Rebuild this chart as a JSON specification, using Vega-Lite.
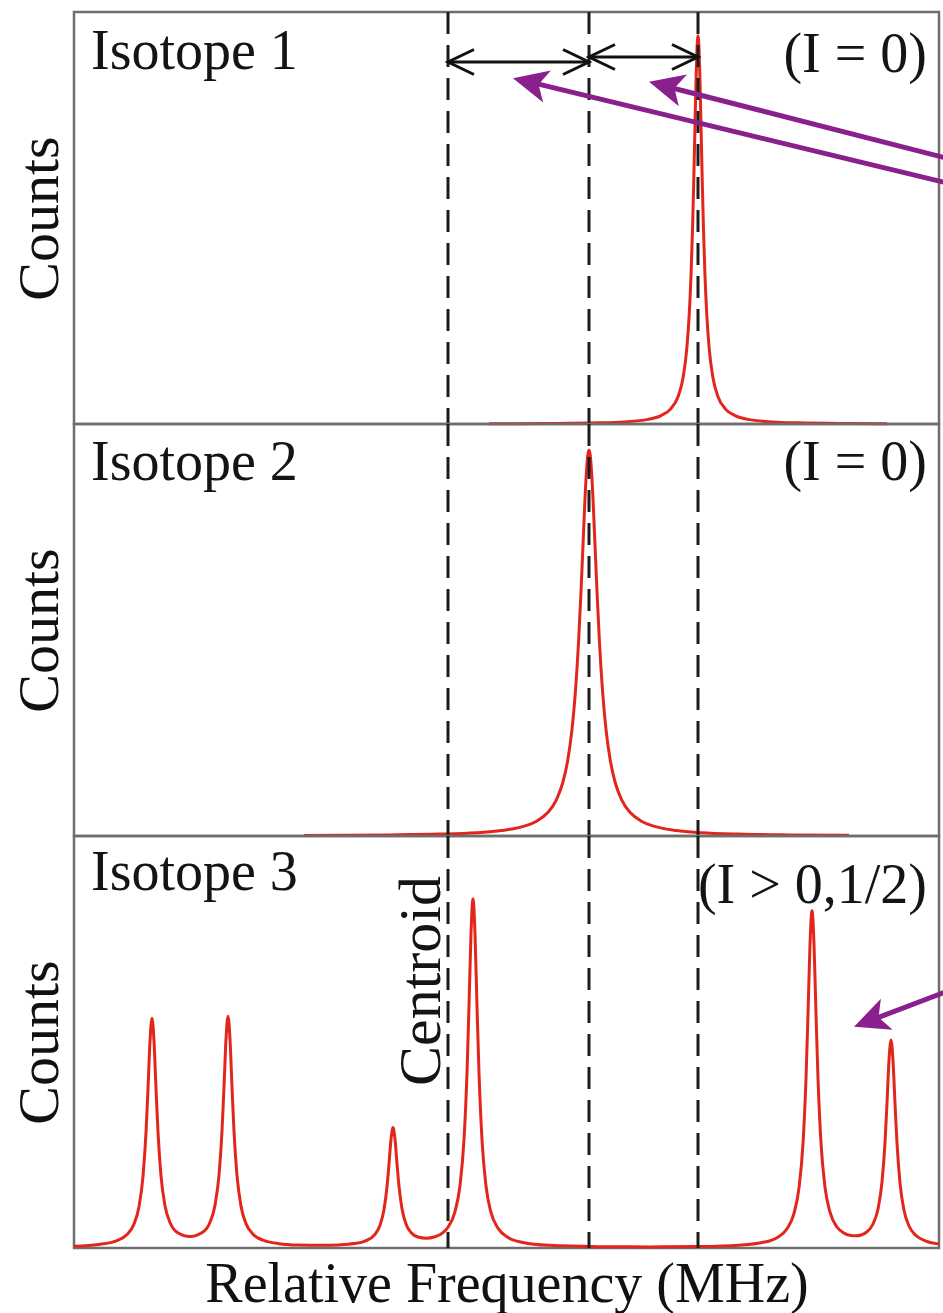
{
  "$schema": "https://vega.github.io/schema/vega-lite/v6.json",
  "background": "white",
  "padding": {"left": 9, "top": 9, "right": 0, "bottom": 0},
  "spacing": 0,
  "bounds": "flush",
  "config": {
    "view": {"stroke": "#6e6e6e", "strokeWidth": 2.5},
    "axis": {"titleFont": "Liberation Serif", "titleFontWeight": "normal", "titleColor": "#111111"},
    "text": {"font": "Liberation Serif", "fontSize": 56, "color": "#141414"}
  },
  "datasets": {
    "iso1": [
      {"freq": -400, "counts": 0.67}, {"freq": -164, "counts": 1.31}, {"freq": 36, "counts": 2.92}, {"freq": 136, "counts": 5.19},
      {"freq": 236, "counts": 11.6}, {"freq": 286, "counts": 20.4}, {"freq": 326, "counts": 37.3}, {"freq": 356, "counts": 68.2},
      {"freq": 376, "counts": 114.9}, {"freq": 391, "counts": 187.2}, {"freq": 401, "counts": 274.7}, {"freq": 408, "counts": 370.2},
      {"freq": 414, "counts": 485}, {"freq": 419, "counts": 607.4}, {"freq": 424, "counts": 747.6}, {"freq": 428, "counts": 856.7},
      {"freq": 432, "counts": 938.9}, {"freq": 436, "counts": 970}, {"freq": 440, "counts": 938.9}, {"freq": 444, "counts": 856.7},
      {"freq": 448, "counts": 747.6}, {"freq": 453, "counts": 607.4}, {"freq": 458, "counts": 485}, {"freq": 464, "counts": 370.2},
      {"freq": 471, "counts": 274.7}, {"freq": 481, "counts": 187.2}, {"freq": 496, "counts": 114.9}, {"freq": 516, "counts": 68.2},
      {"freq": 546, "counts": 37.3}, {"freq": 586, "counts": 20.4}, {"freq": 636, "counts": 11.6}, {"freq": 736, "counts": 5.19},
      {"freq": 836, "counts": 2.92}, {"freq": 1036, "counts": 1.31}, {"freq": 1192, "counts": 0.82}
    ],
    "iso2": [
      {"freq": -1140, "counts": 1.31}, {"freq": -800, "counts": 2.66}, {"freq": -600, "counts": 4.71}, {"freq": -450, "counts": 8.33},
      {"freq": -350, "counts": 13.7}, {"freq": -270, "counts": 22.8}, {"freq": -210, "counts": 37.1}, {"freq": -165, "counts": 58.7},
      {"freq": -130, "counts": 91.2}, {"freq": -105, "counts": 133.1}, {"freq": -85, "counts": 189.4}, {"freq": -68, "counts": 266.5},
      {"freq": -54, "counts": 363.8}, {"freq": -42, "counts": 482.5}, {"freq": -32, "counts": 610.5}, {"freq": -22, "counts": 757.3},
      {"freq": -12, "counts": 892.2}, {"freq": -5, "counts": 951.5}, {"freq": 0, "counts": 965}, {"freq": 5, "counts": 951.5},
      {"freq": 12, "counts": 892.2}, {"freq": 22, "counts": 757.3}, {"freq": 32, "counts": 610.5}, {"freq": 42, "counts": 482.5},
      {"freq": 54, "counts": 363.8}, {"freq": 68, "counts": 266.5}, {"freq": 85, "counts": 189.4}, {"freq": 105, "counts": 133.1},
      {"freq": 130, "counts": 91.2}, {"freq": 165, "counts": 58.7}, {"freq": 210, "counts": 37.1}, {"freq": 270, "counts": 22.8},
      {"freq": 350, "counts": 13.7}, {"freq": 450, "counts": 8.33}, {"freq": 600, "counts": 4.71}, {"freq": 800, "counts": 2.66},
      {"freq": 1040, "counts": 1.57}
    ],
    "iso3": [
      {"freq": -2060, "counts": 4.6}, {"freq": -1960, "counts": 8.9}, {"freq": -1888, "counts": 18.5}, {"freq": -1848, "counts": 33.6},
      {"freq": -1820, "counts": 59.9}, {"freq": -1800, "counts": 103.2}, {"freq": -1784, "counts": 178.8}, {"freq": -1772, "counts": 288.6},
      {"freq": -1764, "counts": 398.3}, {"freq": -1756, "counts": 516.9}, {"freq": -1748, "counts": 574.1}, {"freq": -1740, "counts": 517.3},
      {"freq": -1732, "counts": 399}, {"freq": -1724, "counts": 289.7}, {"freq": -1712, "counts": 180.5}, {"freq": -1696, "counts": 105.8},
      {"freq": -1676, "counts": 63.6}, {"freq": -1648, "counts": 39.4}, {"freq": -1596, "counts": 28.6}, {"freq": -1544, "counts": 39.9},
      {"freq": -1516, "counts": 64.4}, {"freq": -1496, "counts": 107}, {"freq": -1480, "counts": 182.3}, {"freq": -1468, "counts": 292.6},
      {"freq": -1460, "counts": 402.9}, {"freq": -1452, "counts": 522.1}, {"freq": -1444, "counts": 579.5}, {"freq": -1436, "counts": 521.8},
      {"freq": -1428, "counts": 402.2}, {"freq": -1420, "counts": 291.5}, {"freq": -1408, "counts": 180.7}, {"freq": -1392, "counts": 104.7},
      {"freq": -1372, "counts": 61}, {"freq": -1344, "counts": 34.6}, {"freq": -1304, "counts": 19.5}, {"freq": -1240, "counts": 10.9},
      {"freq": -1160, "counts": 7.4}, {"freq": -1080, "counts": 6.6}, {"freq": -1000, "counts": 7.8}, {"freq": -940, "counts": 11},
      {"freq": -896, "counts": 17.4}, {"freq": -856, "counts": 34.3}, {"freq": -836, "counts": 56.9}, {"freq": -820, "counts": 96.1},
      {"freq": -808, "counts": 153.1}, {"freq": -800, "counts": 210}, {"freq": -792, "counts": 271.5}, {"freq": -784, "counts": 301.2},
      {"freq": -776, "counts": 272}, {"freq": -768, "counts": 211}, {"freq": -760, "counts": 154.5}, {"freq": -748, "counts": 98.3},
      {"freq": -732, "counts": 60}, {"freq": -712, "counts": 38.8}, {"freq": -684, "counts": 27.5}, {"freq": -652, "counts": 24.6},
      {"freq": -616, "counts": 28.2}, {"freq": -584, "counts": 38.7}, {"freq": -564, "counts": 51.9}, {"freq": -536, "counts": 90.8},
      {"freq": -516, "counts": 156.2}, {"freq": -500, "counts": 270.8}, {"freq": -488, "counts": 437.9}, {"freq": -480, "counts": 605.1},
      {"freq": -472, "counts": 785.8}, {"freq": -464, "counts": 872.7}, {"freq": -456, "counts": 785.6}, {"freq": -448, "counts": 604.8},
      {"freq": -440, "counts": 437.5}, {"freq": -428, "counts": 270.5}, {"freq": -412, "counts": 154.9}, {"freq": -392, "counts": 89},
      {"freq": -364, "counts": 49.3}, {"freq": -324, "counts": 26.5}, {"freq": -264, "counts": 13.9}, {"freq": -160, "counts": 6.7},
      {"freq": 40, "counts": 3.4}, {"freq": 240, "counts": 2.8}, {"freq": 440, "counts": 3.7}, {"freq": 600, "counts": 7.1},
      {"freq": 692, "counts": 13.6}, {"freq": 752, "counts": 25.9}, {"freq": 792, "counts": 48}, {"freq": 820, "counts": 86.5},
      {"freq": 840, "counts": 150.2}, {"freq": 856, "counts": 261.3}, {"freq": 868, "counts": 423}, {"freq": 876, "counts": 584.7},
      {"freq": 884, "counts": 759.3}, {"freq": 892, "counts": 843.4}, {"freq": 900, "counts": 759.6}, {"freq": 908, "counts": 585.3},
      {"freq": 916, "counts": 423.9}, {"freq": 928, "counts": 262.7}, {"freq": 944, "counts": 152.2}, {"freq": 964, "counts": 89.4},
      {"freq": 992, "counts": 52.5}, {"freq": 1020, "counts": 37.2}, {"freq": 1048, "counts": 31.2}, {"freq": 1068, "counts": 30.5},
      {"freq": 1088, "counts": 32.6}, {"freq": 1108, "counts": 38.7}, {"freq": 1136, "counts": 60}, {"freq": 1156, "counts": 97.7},
      {"freq": 1172, "counts": 165}, {"freq": 1184, "counts": 263.6}, {"freq": 1192, "counts": 362.3}, {"freq": 1200, "counts": 469},
      {"freq": 1208, "counts": 520.3}, {"freq": 1216, "counts": 468.5}, {"freq": 1224, "counts": 361.3}, {"freq": 1232, "counts": 262.1},
      {"freq": 1244, "counts": 162.8}, {"freq": 1260, "counts": 94.4}, {"freq": 1280, "counts": 55.1}, {"freq": 1308, "counts": 31.2},
      {"freq": 1348, "counts": 17.4}, {"freq": 1400, "counts": 10.2}
    ],
    "centers": [{"freq": -564}, {"freq": 0}, {"freq": 436}],
    "spans": [{"freq": -564, "freq2": 0, "counts": 905}, {"freq": 0, "freq2": 436, "counts": 917.5}],
    "tipsLeft": [{"freq": -564, "counts": 905}, {"freq": 0, "counts": 917.5}],
    "tipsRight": [{"freq": 0, "counts": 905}, {"freq": 436, "counts": 917.5}],
    "names": [
      {"panel": 1, "freq": -1992, "counts": 887.5, "text": "Isotope 1"},
      {"panel": 2, "freq": -1992, "counts": 890, "text": "Isotope 2"},
      {"panel": 3, "freq": -1992, "counts": 895, "text": "Isotope 3"}
    ],
    "spins": [
      {"panel": 1, "freq": 1352, "counts": 881, "text": "(I = 0)"},
      {"panel": 2, "freq": 1352, "counts": 890, "text": "(I = 0)"},
      {"panel": 3, "freq": 1352, "counts": 862.5, "text": "(I > 0,1/2)"}
    ],
    "centroid": [{"freq": -596, "counts": 667.5, "text": "Centroid"}],
    "pointers": [
      {"panel": 1, "freq": -226.4, "counts": 853.3, "freq2": 1420, "counts2": 604.3},
      {"panel": 1, "freq": 317.6, "counts": 842.5, "freq2": 1420, "counts2": 666.3},
      {"panel": 3, "freq": 1134.8, "counts": 571, "freq2": 1420, "counts2": 638.8}
    ],
    "heads": [
      {"id": "a", "freq": -304, "counts": 864.3},
      {"id": "b", "freq": 240, "counts": 855.8},
      {"id": "c", "freq": 1060, "counts": 553.3}
    ]
  },
  "vconcat": [
    {
      "width": 865, "height": 412,
      "layer": [
        {"data": {"name": "iso1"}, "mark": {"type": "line", "color": "#e3261c", "strokeWidth": 3, "interpolate": "monotone"},
         "encoding": {
           "x": {"field": "freq", "type": "quantitative", "scale": {"domain": [-2060, 1400], "nice": false, "zero": false}, "axis": null},
           "y": {"field": "counts", "type": "quantitative", "scale": {"domain": [0, 1030], "nice": false, "zero": false}, "title": "Counts",
                 "axis": {"title": "Counts", "labels": false, "ticks": false, "domain": false, "grid": false, "titleFont": "Liberation Serif", "titleFontWeight": "normal", "titleFontSize": 58, "titlePadding": 5, "titleColor": "#111111"}}}},
        {"data": {"name": "centers"}, "mark": {"type": "rule", "strokeDash": [22, 11], "strokeWidth": 3, "color": "#1c1c1c"},
         "encoding": {"x": {"field": "freq", "type": "quantitative", "scale": {"domain": [-2060, 1400], "nice": false, "zero": false}, "axis": null}}},
        {"data": {"name": "spans"}, "mark": {"type": "rule", "color": "#111111", "strokeWidth": 3},
         "encoding": {
           "x": {"field": "freq", "type": "quantitative", "scale": {"domain": [-2060, 1400], "nice": false, "zero": false}, "axis": null},
           "x2": {"field": "freq2"},
           "y": {"field": "counts", "type": "quantitative", "scale": {"domain": [0, 1030], "nice": false, "zero": false}, "title": "Counts"}}},
        {"data": {"name": "tipsLeft"}, "mark": {"type": "point", "shape": "M1,-0.48L0,0L1,0.48", "size": 2704, "filled": false, "stroke": "#111111", "strokeWidth": 3, "opacity": 1},
         "encoding": {
           "x": {"field": "freq", "type": "quantitative", "scale": {"domain": [-2060, 1400], "nice": false, "zero": false}, "axis": null},
           "y": {"field": "counts", "type": "quantitative", "scale": {"domain": [0, 1030], "nice": false, "zero": false}, "title": "Counts"}}},
        {"data": {"name": "tipsRight"}, "mark": {"type": "point", "shape": "M-1,-0.48L0,0L-1,0.48", "size": 2704, "filled": false, "stroke": "#111111", "strokeWidth": 3, "opacity": 1},
         "encoding": {
           "x": {"field": "freq", "type": "quantitative", "scale": {"domain": [-2060, 1400], "nice": false, "zero": false}, "axis": null},
           "y": {"field": "counts", "type": "quantitative", "scale": {"domain": [0, 1030], "nice": false, "zero": false}, "title": "Counts"}}},
        {"data": {"name": "names"}, "transform": [{"filter": "datum.panel == 1"}], "mark": {"type": "text", "align": "left", "baseline": "alphabetic"},
         "encoding": {
           "x": {"field": "freq", "type": "quantitative", "scale": {"domain": [-2060, 1400], "nice": false, "zero": false}, "axis": null},
           "y": {"field": "counts", "type": "quantitative", "scale": {"domain": [0, 1030], "nice": false, "zero": false}, "title": "Counts"},
           "text": {"field": "text"}}},
        {"data": {"name": "spins"}, "transform": [{"filter": "datum.panel == 1"}], "mark": {"type": "text", "align": "right", "baseline": "alphabetic"},
         "encoding": {
           "x": {"field": "freq", "type": "quantitative", "scale": {"domain": [-2060, 1400], "nice": false, "zero": false}, "axis": null},
           "y": {"field": "counts", "type": "quantitative", "scale": {"domain": [0, 1030], "nice": false, "zero": false}, "title": "Counts"},
           "text": {"field": "text"}}},
        {"data": {"name": "pointers"}, "transform": [{"filter": "datum.panel == 1"}], "mark": {"type": "rule", "color": "#8a1f8e", "strokeWidth": 5},
         "encoding": {
           "x": {"field": "freq", "type": "quantitative", "scale": {"domain": [-2060, 1400], "nice": false, "zero": false}, "axis": null},
           "x2": {"field": "freq2"},
           "y": {"field": "counts", "type": "quantitative", "scale": {"domain": [0, 1030], "nice": false, "zero": false}, "title": "Counts"},
           "y2": {"field": "counts2"}}},
        {"data": {"name": "heads"}, "transform": [{"filter": "datum.id == 'a'"}], "mark": {"type": "point", "shape": "M0,0L-1,-0.47L-0.75,0L-1,0.47Z", "filled": true, "color": "#8a1f8e", "size": 4900, "angle": 193.6, "opacity": 1},
         "encoding": {
           "x": {"field": "freq", "type": "quantitative", "scale": {"domain": [-2060, 1400], "nice": false, "zero": false}, "axis": null},
           "y": {"field": "counts", "type": "quantitative", "scale": {"domain": [0, 1030], "nice": false, "zero": false}, "title": "Counts"}}},
        {"data": {"name": "heads"}, "transform": [{"filter": "datum.id == 'b'"}], "mark": {"type": "point", "shape": "M0,0L-1,-0.47L-0.75,0L-1,0.47Z", "filled": true, "color": "#8a1f8e", "size": 4900, "angle": 194.4, "opacity": 1},
         "encoding": {
           "x": {"field": "freq", "type": "quantitative", "scale": {"domain": [-2060, 1400], "nice": false, "zero": false}, "axis": null},
           "y": {"field": "counts", "type": "quantitative", "scale": {"domain": [0, 1030], "nice": false, "zero": false}, "title": "Counts"}}}
      ]
    },
    {
      "width": 865, "height": 412,
      "layer": [
        {"data": {"name": "iso2"}, "mark": {"type": "line", "color": "#e3261c", "strokeWidth": 3, "interpolate": "monotone"},
         "encoding": {
           "x": {"field": "freq", "type": "quantitative", "scale": {"domain": [-2060, 1400], "nice": false, "zero": false}, "axis": null},
           "y": {"field": "counts", "type": "quantitative", "scale": {"domain": [0, 1030], "nice": false, "zero": false}, "title": "Counts",
                 "axis": {"title": "Counts", "labels": false, "ticks": false, "domain": false, "grid": false, "titleFont": "Liberation Serif", "titleFontWeight": "normal", "titleFontSize": 58, "titlePadding": 5, "titleColor": "#111111"}}}},
        {"data": {"name": "centers"}, "mark": {"type": "rule", "strokeDash": [22, 11], "strokeWidth": 3, "color": "#1c1c1c"},
         "encoding": {"x": {"field": "freq", "type": "quantitative", "scale": {"domain": [-2060, 1400], "nice": false, "zero": false}, "axis": null}}},
        {"data": {"name": "names"}, "transform": [{"filter": "datum.panel == 2"}], "mark": {"type": "text", "align": "left", "baseline": "alphabetic"},
         "encoding": {
           "x": {"field": "freq", "type": "quantitative", "scale": {"domain": [-2060, 1400], "nice": false, "zero": false}, "axis": null},
           "y": {"field": "counts", "type": "quantitative", "scale": {"domain": [0, 1030], "nice": false, "zero": false}, "title": "Counts"},
           "text": {"field": "text"}}},
        {"data": {"name": "spins"}, "transform": [{"filter": "datum.panel == 2"}], "mark": {"type": "text", "align": "right", "baseline": "alphabetic"},
         "encoding": {
           "x": {"field": "freq", "type": "quantitative", "scale": {"domain": [-2060, 1400], "nice": false, "zero": false}, "axis": null},
           "y": {"field": "counts", "type": "quantitative", "scale": {"domain": [0, 1030], "nice": false, "zero": false}, "title": "Counts"},
           "text": {"field": "text"}}}
      ]
    },
    {
      "width": 865, "height": 412,
      "layer": [
        {"data": {"name": "iso3"}, "mark": {"type": "line", "color": "#e3261c", "strokeWidth": 3, "interpolate": "monotone"},
         "encoding": {
           "x": {"field": "freq", "type": "quantitative", "scale": {"domain": [-2060, 1400], "nice": false, "zero": false}, "title": "Relative Frequency (MHz)",
                 "axis": {"title": "Relative Frequency (MHz)", "labels": false, "ticks": false, "domain": false, "grid": false, "titleFont": "Liberation Serif", "titleFontWeight": "normal", "titleFontSize": 56, "titlePadding": 9, "titleColor": "#111111"}},
           "y": {"field": "counts", "type": "quantitative", "scale": {"domain": [0, 1030], "nice": false, "zero": false}, "title": "Counts",
                 "axis": {"title": "Counts", "labels": false, "ticks": false, "domain": false, "grid": false, "titleFont": "Liberation Serif", "titleFontWeight": "normal", "titleFontSize": 58, "titlePadding": 5, "titleColor": "#111111"}}}},
        {"data": {"name": "centers"}, "mark": {"type": "rule", "strokeDash": [22, 11], "strokeWidth": 3, "color": "#1c1c1c"},
         "encoding": {"x": {"field": "freq", "type": "quantitative", "scale": {"domain": [-2060, 1400], "nice": false, "zero": false}, "title": "Relative Frequency (MHz)"}}},
        {"data": {"name": "names"}, "transform": [{"filter": "datum.panel == 3"}], "mark": {"type": "text", "align": "left", "baseline": "alphabetic"},
         "encoding": {
           "x": {"field": "freq", "type": "quantitative", "scale": {"domain": [-2060, 1400], "nice": false, "zero": false}, "title": "Relative Frequency (MHz)"},
           "y": {"field": "counts", "type": "quantitative", "scale": {"domain": [0, 1030], "nice": false, "zero": false}, "title": "Counts"},
           "text": {"field": "text"}}},
        {"data": {"name": "spins"}, "transform": [{"filter": "datum.panel == 3"}], "mark": {"type": "text", "align": "right", "baseline": "alphabetic"},
         "encoding": {
           "x": {"field": "freq", "type": "quantitative", "scale": {"domain": [-2060, 1400], "nice": false, "zero": false}, "title": "Relative Frequency (MHz)"},
           "y": {"field": "counts", "type": "quantitative", "scale": {"domain": [0, 1030], "nice": false, "zero": false}, "title": "Counts"},
           "text": {"field": "text"}}},
        {"data": {"name": "centroid"}, "mark": {"type": "text", "align": "center", "baseline": "alphabetic", "angle": 270, "fontSize": 60},
         "encoding": {
           "x": {"field": "freq", "type": "quantitative", "scale": {"domain": [-2060, 1400], "nice": false, "zero": false}, "title": "Relative Frequency (MHz)"},
           "y": {"field": "counts", "type": "quantitative", "scale": {"domain": [0, 1030], "nice": false, "zero": false}, "title": "Counts"},
           "text": {"field": "text"}}},
        {"data": {"name": "pointers"}, "transform": [{"filter": "datum.panel == 3"}], "mark": {"type": "rule", "color": "#8a1f8e", "strokeWidth": 5},
         "encoding": {
           "x": {"field": "freq", "type": "quantitative", "scale": {"domain": [-2060, 1400], "nice": false, "zero": false}, "title": "Relative Frequency (MHz)"},
           "x2": {"field": "freq2"},
           "y": {"field": "counts", "type": "quantitative", "scale": {"domain": [0, 1030], "nice": false, "zero": false}, "title": "Counts"},
           "y2": {"field": "counts2"}}},
        {"data": {"name": "heads"}, "transform": [{"filter": "datum.id == 'c'"}], "mark": {"type": "point", "shape": "M0,0L-1,-0.47L-0.75,0L-1,0.47Z", "filled": true, "color": "#8a1f8e", "size": 4900, "angle": 159.2, "opacity": 1},
         "encoding": {
           "x": {"field": "freq", "type": "quantitative", "scale": {"domain": [-2060, 1400], "nice": false, "zero": false}, "title": "Relative Frequency (MHz)"},
           "y": {"field": "counts", "type": "quantitative", "scale": {"domain": [0, 1030], "nice": false, "zero": false}, "title": "Counts"}}}
      ]
    }
  ]
}
